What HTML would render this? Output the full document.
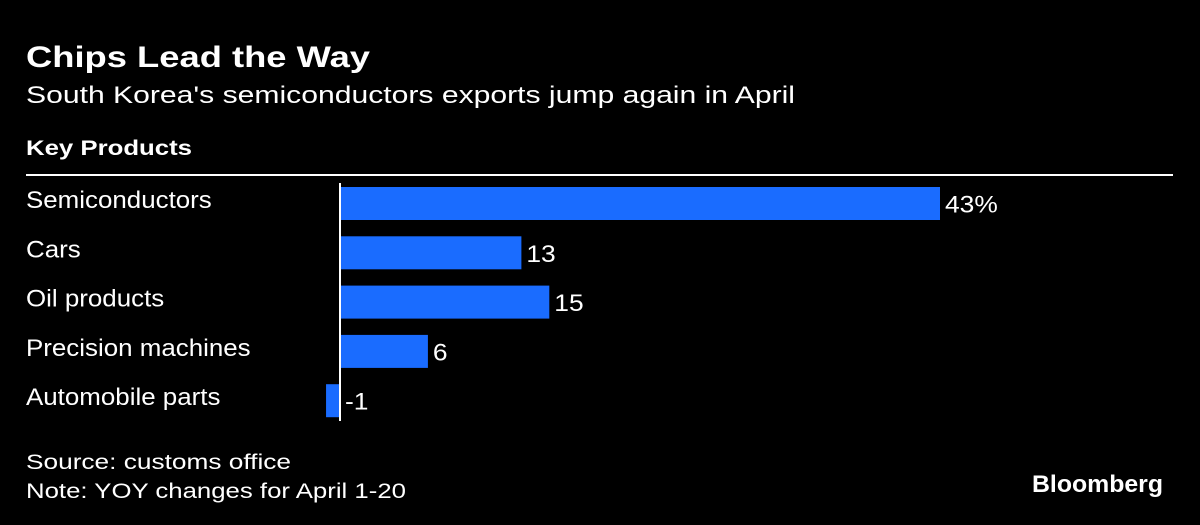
<!DOCTYPE html>
<html><head><meta charset="utf-8"><style>
html,body{margin:0;padding:0;background:#000;width:1200px;height:525px;overflow:hidden}
svg{display:block}
text{font-family:"Liberation Sans",sans-serif;fill:#fff}
</style></head><body>
<svg id="chart" width="1200" height="525" viewBox="0 0 1200 525">
<rect width="1200" height="525" fill="#000"/>
<text x="26" y="67" font-size="30" font-weight="bold" textLength="344" lengthAdjust="spacingAndGlyphs">Chips Lead the Way</text>
<text x="26" y="103" font-size="24" textLength="769" lengthAdjust="spacingAndGlyphs">South Korea's semiconductors exports jump again in April</text>
<text x="26" y="155" font-size="21" font-weight="bold" textLength="166" lengthAdjust="spacingAndGlyphs">Key Products</text>
<rect x="26" y="174" width="1147" height="2" fill="#fff"/>
<g id="bars"></g>
<text x="26" y="469" font-size="21" textLength="265" lengthAdjust="spacingAndGlyphs">Source: customs office</text>
<text x="26" y="498" font-size="21" textLength="380" lengthAdjust="spacingAndGlyphs">Note: YOY changes for April 1-20</text>
<text x="1032" y="492" font-size="24" font-weight="bold" textLength="131" lengthAdjust="spacingAndGlyphs">Bloomberg</text>
</svg>
<script>
const categories = ["Semiconductors","Cars","Oil products","Precision machines","Automobile parts"];
const values = [43,13,15,6.3,-1];
const valueLabels = ["43%","13","15","6","-1"];
const ns="http://www.w3.org/2000/svg";
const g=document.getElementById('bars');
const x0=340, scale=600/43;
const xs=v=>x0+v*scale;
const rowY=i=>187+i*49.3;
const bh=33;
categories.forEach((c,i)=>{
  const y=rowY(i);
  const t=document.createElementNS(ns,'text');
  
  
  t.setAttribute('x',26);t.setAttribute('y',y+21);t.setAttribute('font-size','24');
  t.setAttribute('transform','translate(26,0) scale(1.08,1) translate(-26,0)');
  t.textContent=c;g.appendChild(t);
  const v=values[i];
  const r=document.createElementNS(ns,'rect');
  
  
  r.setAttribute('x',Math.min(xs(0),xs(v)));r.setAttribute('y',y);
  r.setAttribute('width',Math.abs(xs(v)-xs(0)));r.setAttribute('height',bh);
  r.setAttribute('fill','#1a6cff');g.appendChild(r);
  const lx=(v>=0?xs(v):xs(0))+5;
  const l=document.createElementNS(ns,'text');
  
  
  l.setAttribute('x',lx);l.setAttribute('y',y+bh/2+9);
  l.setAttribute('font-size','24');
  l.setAttribute('transform','translate('+lx+',0) scale(1.1,1) translate('+(-lx)+',0)');
  l.textContent=valueLabels[i];g.appendChild(l);
});
const z=document.createElementNS(ns,'rect');


z.setAttribute('x',xs(0)-1);z.setAttribute('y',183);z.setAttribute('width',2);z.setAttribute('height',238);
z.setAttribute('fill','#fff');g.appendChild(z);
</script>
</body></html>
